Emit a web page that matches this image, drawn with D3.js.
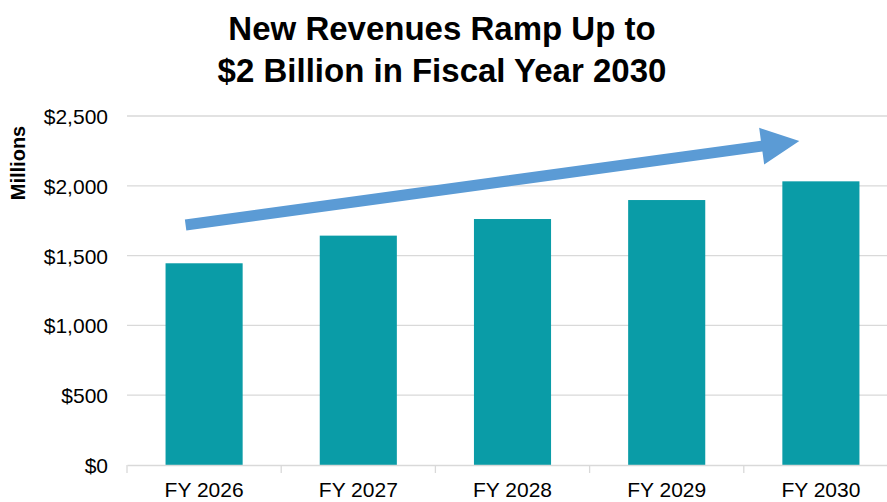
<!DOCTYPE html>
<html lang="en">
<head>
    <meta charset="UTF-8">
    <title>New Revenues Ramp Up</title>
    <script src="https://cdnjs.cloudflare.com/ajax/libs/d3/7.8.5/d3.min.js"></script>
    <style>
        body {
            margin: 0;
            background: #ffffff;
            font-family: 'Liberation Sans', Arial, sans-serif;
        }
        .title {
            font-size: 33px;
            font-weight: bold;
            fill: #000;
            text-anchor: middle;
        }
        .tick text {
            font-family: 'Liberation Sans', Arial, sans-serif;
            fill: #000;
        }
    </style>
</head>
<body>
    <svg id="chart" width="887" height="502"></svg>

    <script>
        const years = ['FY 2026', 'FY 2027', 'FY 2028', 'FY 2029', 'FY 2030'];
        const revenues = [1445, 1643, 1762, 1898, 2032];
        const yTicks = [0, 500, 1000, 1500, 2000, 2500];
        const titleLines = ['New Revenues Ramp Up to', '$2 Billion in Fiscal Year 2030'];
        // trend arrow, in data terms: [category index offset, value]
        const arrowFrom = [-0.12, 1719];
        const arrowTo = [3.86, 2321];

        const svg = d3.select('#chart');
        const margin = { top: 116, right: -11, bottom: 37, left: 127 };
        const width = 887 - margin.left - margin.right;
        const height = 502 - margin.top - margin.bottom;

        const g = svg.append('g')
            .attr('transform', `translate(${margin.left},${margin.top})`);

        const x = d3.scaleBand()
            .domain(years)
            .range([0, width])
            .paddingInner(0.5)
            .paddingOuter(0.25);

        const y = d3.scaleLinear()
            .domain([0, 2500])
            .range([height, 0]);

        // title
        svg.selectAll('.title')
            .data(titleLines)
            .enter().append('text')
            .attr('class', 'title')
            .attr('x', 442)
            .attr('y', (d, i) => 40 + i * 42)
            .text(d => d);

        // gridlines
        g.selectAll('.grid')
            .data(yTicks.slice(1))
            .enter().append('line')
            .attr('x1', 0)
            .attr('x2', width)
            .attr('y1', d => y(d))
            .attr('y2', d => y(d))
            .attr('stroke', '#d9d9d9')
            .attr('stroke-width', 1.3);

        // y axis labels
        const yAxis = g.append('g')
            .call(d3.axisLeft(y)
                .tickValues(yTicks)
                .tickSize(0)
                .tickPadding(19)
                .tickFormat(d => '$' + d3.format(',')(d)));
        yAxis.select('.domain').remove();
        yAxis.selectAll('text').attr('font-size', 21).attr('dy', '0.36em');

        // bars
        g.selectAll('.bar')
            .data(revenues)
            .enter().append('rect')
            .attr('class', 'bar')
            .attr('x', (d, i) => x(years[i]))
            .attr('y', d => y(d))
            .attr('width', x.bandwidth())
            .attr('height', d => height - y(d))
            .attr('fill', '#0a9ca7');

        // x axis
        const step = x.step();
        const xAxis = g.append('g')
            .attr('transform', `translate(0,${height})`)
            .call(d3.axisBottom(x).tickSize(0).tickPadding(17));
        xAxis.select('.domain').attr('stroke', '#d9d9d9').attr('stroke-width', 1.3);
        xAxis.selectAll('text').attr('font-size', 21);
        xAxis.selectAll('.sep')
            .data(d3.range(years.length + 1))
            .enter().append('line')
            .attr('x1', i => i * step)
            .attr('x2', i => i * step)
            .attr('y1', 0)
            .attr('y2', 8)
            .attr('stroke', '#d9d9d9')
            .attr('stroke-width', 1.3);

        // y axis title
        svg.append('text')
            .attr('transform', 'translate(25,163) rotate(-90)')
            .attr('text-anchor', 'middle')
            .attr('font-size', 20)
            .attr('font-weight', 'bold')
            .text('Millions');

        // trend arrow
        const cx = v => x(years[0]) + x.bandwidth() / 2 + v * step;
        const x0 = cx(arrowFrom[0]), y0 = y(arrowFrom[1]);
        const x1 = cx(arrowTo[0]), y1 = y(arrowTo[1]);
        const ang = Math.atan2(y1 - y0, x1 - x0);
        const headLen = 38, headHalf = 18.5, shaftHalf = 5.5;
        const ux = Math.cos(ang), uy = Math.sin(ang);
        const nx = -uy, ny = ux;
        const bx = x1 - headLen * ux, by = y1 - headLen * uy;
        const pts = [
            [x0 + nx * shaftHalf, y0 + ny * shaftHalf],
            [bx + nx * shaftHalf, by + ny * shaftHalf],
            [bx + nx * headHalf, by + ny * headHalf],
            [x1, y1],
            [bx - nx * headHalf, by - ny * headHalf],
            [bx - nx * shaftHalf, by - ny * shaftHalf],
            [x0 - nx * shaftHalf, y0 - ny * shaftHalf]
        ];
        g.append('path')
            .attr('d', d3.line()(pts) + 'Z')
            .attr('fill', '#5b9bd5');
    </script>
</body>
</html>
